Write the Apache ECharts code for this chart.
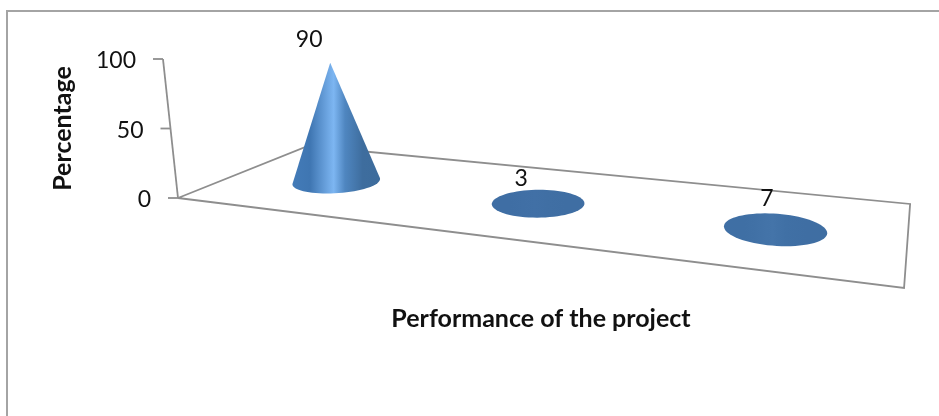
<!DOCTYPE html>
<html>
<head>
<meta charset="utf-8">
<style>html,body{margin:0;padding:0;background:#fff}#chart{width:939px;height:416px}</style>
<script src="https://cdn.jsdelivr.net/npm/echarts@6/dist/echarts.min.js"></script>
</head>
<body>
<div id="chart"></div>
<script>
const categories = ['1', '2', '3'];
const performanceValues = [90, 3, 7];
const yTickValues = [0, 50, 100];

const xAxisTitle = 'Performance of the project';
const yAxisTitle = 'Percentage';
const FONT = 'Lato, "Open Sans", sans-serif';
const TEXT = '#111111';
const LINE = '#8e8e8e';

// Perspective of the floor: unit square (along the axis, into the depth) onto the screen.
const P = { a: 511.7, b: 194.2, c: 178, d: 21.7, e: -21.6, f: 198, g: -0.2371, h: 0.2083 };
const project = (u, v) => {
  const w = P.g * u + P.h * v + 1;
  return { x: (P.a * u + P.b * v + P.c) / w, y: (P.d * u + P.e * v + P.f) / w, w };
};
const DEPTH = 0.47, R_U = 0.066, R_V = 0.2, U_SHIFT = 0.003;
const LEAN_X0 = 500, LEAN_K = 2980;
const raise = (pt, px) => {
  const h = px / pt.w;
  return { x: pt.x + h * (pt.x - LEAN_X0) / LEAN_K, y: pt.y - h };
};
const GRID = { left: 178, top: 59, width: 726, height: 139 };
const labelNudge = [[-21, -23], [-17, -20], [-9, -20]];

function hull(pts) {
  const s = pts.slice().sort((p, q) => p.x - q.x || p.y - q.y);
  const cross = (o, a, b) => (a.x - o.x) * (b.y - o.y) - (a.y - o.y) * (b.x - o.x);
  const half = list => {
    const out = [];
    for (const p of list) {
      while (out.length > 1 && cross(out[out.length - 2], out[out.length - 1], p) <= 0) out.pop();
      out.push(p);
    }
    out.pop();
    return out;
  };
  return half(s).concat(half(s.slice().reverse()));
}
const mix = (a, b, t) => {
  const pa = [1, 3, 5].map(i => parseInt(a.substr(i, 2), 16));
  const pb = [1, 3, 5].map(i => parseInt(b.substr(i, 2), 16));
  return 'rgb(' + pa.map((c, i) => Math.round(c + (pb[i] - c) * t)).join(',') + ')';
};

function renderFrame(params, api) {
  const line = (pts, width) => ({
    type: 'polyline',
    shape: { points: pts.map(p => [p.x, p.y]) },
    style: { stroke: LINE, lineWidth: width || 1.8, fill: null }
  });
  const c = [project(0, 0), project(1, 0), project(1, 1), project(0, 1)];
  const children = [line([c[0], c[1], c[2], c[3], c[0]])];
  const base = project(0, 0);
  const top = raise(base, api.size([0, 100])[1]);
  children.push(line([base, top]));
  yTickValues.forEach(t => {
    const p = raise(base, api.size([0, t])[1]);
    children.push(line([{ x: p.x - 10, y: p.y }, p]));
    children.push({
      type: 'text',
      style: {
        text: String(t), x: p.x - 27, y: p.y + 2, align: 'right', verticalAlign: 'middle',
        font: '23px ' + FONT, fill: TEXT
      }
    });
  });
  return { type: 'group', children };
}

function renderCone(params, api) {
  const anchor = api.coord([api.value(0), 0]);
  const u = (anchor[0] - GRID.left) / GRID.width + U_SHIFT;
  const value = api.value(1);
  const center = project(u, DEPTH);
  const tip = raise(center, api.size([0, value])[1]);
  const rim = [];
  for (let i = 0; i < 72; i++) {
    const t = i / 72 * Math.PI * 2;
    rim.push(project(u + R_U * Math.cos(t), DEPTH + R_V * Math.sin(t)));
  }
  const outline = hull(rim.concat([tip]));
  const k = Math.min(1, value / 90);
  const flat = '#3f6ea3';
  const fill = new echarts.graphic.LinearGradient(0, 0, 1, 0, [
    { offset: 0, color: mix(flat, '#437bb8', k) },
    { offset: 0.2, color: mix(flat, '#3f76b2', k) },
    { offset: 0.47, color: mix(flat, '#7db6f2', k) },
    { offset: 0.6, color: mix(flat, '#4f86c0', k) },
    { offset: 0.8, color: mix(flat, '#3e6d9e', k) },
    { offset: 1, color: mix(flat, '#3d6c9c', k) }
  ]);
  const nudge = labelNudge[params.dataIndex];
  return {
    type: 'group',
    children: [
      { type: 'polygon', shape: { points: outline.map(p => [p.x, p.y]) }, style: { fill } },
      {
        type: 'text',
        z2: 10,
        style: {
          text: String(value), x: tip.x + nudge[0], y: tip.y + nudge[1], align: 'center', verticalAlign: 'middle',
          font: '23px ' + FONT, fill: TEXT
        }
      }
    ]
  };
}

const chart = echarts.init(document.getElementById('chart'), null, { renderer: 'canvas' });
chart.setOption({
  animation: false,
  backgroundColor: '#ffffff',
  grid: { left: GRID.left, top: GRID.top, width: GRID.width, height: GRID.height },
  graphic: [{
    type: 'rect', silent: true, z: -1,
    shape: { x: 7, y: 11, width: 1100, height: 600 },
    style: { fill: '#fff', stroke: '#a4a4a4', lineWidth: 2 }
  }],
  xAxis: {
    type: 'category', data: categories,
    axisLine: { show: false }, axisTick: { show: false }, axisLabel: { show: false }, splitLine: { show: false },
    name: xAxisTitle, nameLocation: 'middle', nameGap: 108,
    nameTextStyle: { fontFamily: FONT, fontWeight: 'bold', fontSize: 25, color: TEXT }
  },
  yAxis: {
    type: 'value', min: 0, max: 100, interval: 50,
    axisLine: { show: false }, axisTick: { show: false }, axisLabel: { show: false }, splitLine: { show: false },
    name: yAxisTitle, nameLocation: 'middle', nameGap: 103,
    nameTextStyle: { fontFamily: FONT, fontWeight: 'bold', fontSize: 25, color: TEXT }
  },
  series: [
    { type: 'custom', silent: true, clip: false, z: 1, renderItem: renderFrame, data: [[0, 0]], encode: { x: 0, y: 1 } },
    {
      type: 'custom', silent: true, clip: false, z: 2, renderItem: renderCone,
      data: performanceValues.map((v, i) => [i, v]), encode: { x: 0, y: 1 }
    }
  ]
});
</script>
</body>
</html>
